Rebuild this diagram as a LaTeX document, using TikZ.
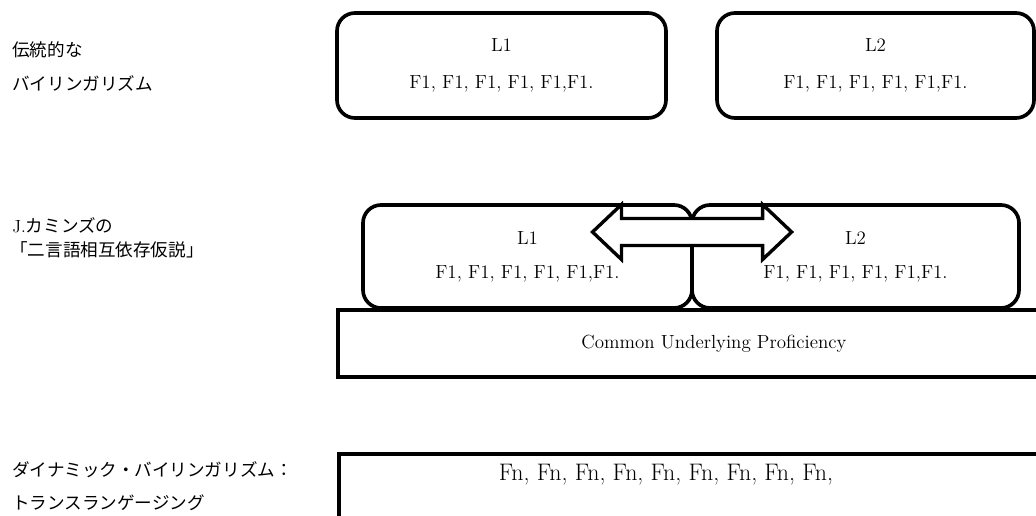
\documentclass[tikz,border=0pt]{standalone}
\usepackage{fontspec}
\newfontfamily\jpfont{Noto Sans CJK JP}
\usetikzlibrary{positioning}

\begin{document}
\begin{tikzpicture}[
  lang/.style={draw, line width=2.6pt, rounded corners=0.45cm, inner sep=0, align=center, font={\fontsize{13.5}{16}\selectfont}},
  base/.style={draw, line width=2.2pt, inner sep=0, align=center, font={\fontsize{13.5}{16}\selectfont}},
  jp/.style={anchor=west, inner sep=0, font={\fontsize{12.5}{15}\selectfont\jpfont}},
  bidir/.style={draw, line width=2.4pt, fill=white, line join=miter}]
\useasboundingbox (0,0) rectangle (25.9,12.875);
% traditional bilingualism
\node[jp] (trad1) at (0.3,11.625) {伝統的な};
\node[jp] (trad2) at (0.3,10.8)   {バイリンガリズム};
\node[lang, minimum width=8.225cm, minimum height=2.625cm] (l1a) at (12.5375,11.2375) {L1\\[10pt]F1, F1, F1, F1, F1,F1.};
\node[lang, minimum width=7.925cm, minimum height=2.625cm] (l2a) at (21.8875,11.2375) {L2\\[10pt]F1, F1, F1, F1, F1,F1.};
% Cummins
\node[jp] (cum1) at (0.3,7.25)   {{\fontspec{Latin Modern Roman}J.}カミンズの};
\node[jp] (cum2) at (0.25,6.625) {「二言語相互依存仮説」};
\node[base, minimum width=18.8cm, minimum height=1.675cm] (cup) at (17.85,4.2875) {Common Underlying Proficiency};
\node[lang, minimum width=8.225cm, minimum height=2.575cm] (l1b) at (13.1875,6.4625) {L1\\[8pt]F1, F1, F1, F1, F1,F1.};
\node[lang, minimum width=8.175cm, minimum height=2.575cm] (l2b) at (21.3875,6.4625) {L2\\[8pt]F1, F1, F1, F1, F1,F1.};
\coordinate (swap) at (17.3,7.075);
\draw[bidir] (swap) ++(-2.4875,0) -- ++(0.725,0.6875) -- ++(0,-0.35) -- ++(3.5275,0) -- ++(0,0.35)
  -- ++(0.725,-0.6875) -- ++(-0.725,-0.6875) -- ++(0,0.35) -- ++(-3.5275,0) -- ++(0,-0.35) -- cycle;
% dynamic bilingualism
\node[jp] (dyn1) at (0.3,1.125) {ダイナミック・バイリンガリズム：};
\node[jp] (dyn2) at (0.3,0.3)   {トランスランゲージング};
\node[draw, line width=2.8pt, inner sep=0, minimum width=18.5cm, minimum height=3cm, anchor=north west] (fnbox) at (8.425,1.575) {};
\node[font={\fontsize{17}{20}\selectfont}, inner sep=0] (fn) at (16.65,1.0) {Fn, Fn, Fn, Fn, Fn, Fn, Fn, Fn, Fn,};
\end{tikzpicture}
\end{document}
